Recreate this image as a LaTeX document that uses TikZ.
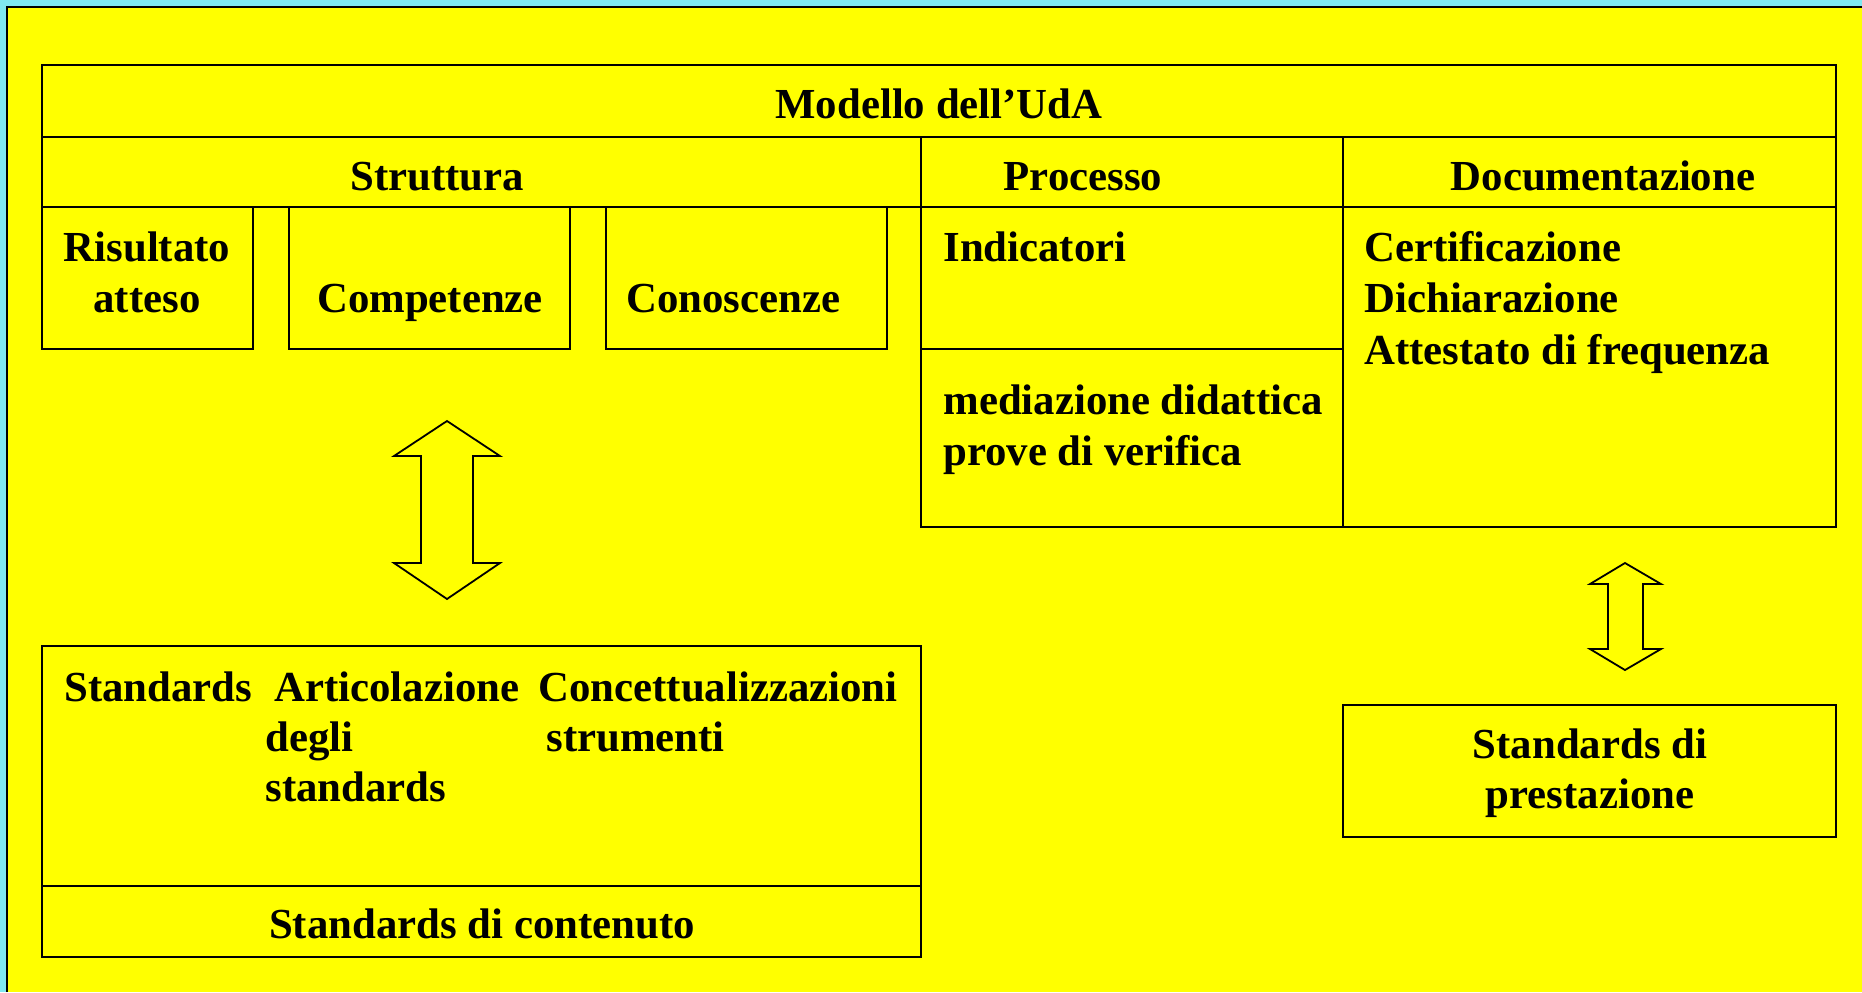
\documentclass[tikz,border=0pt]{standalone}
\usepackage{fontspec}
\setmainfont{Liberation Serif}

\definecolor{slidecyan}{RGB}{128,232,240}
\definecolor{slideyellow}{RGB}{255,255,0}

\begin{document}
\begin{tikzpicture}[x=0.5pt,y=-0.5pt,
  font=\fontsize{21.4}{25}\selectfont\bfseries,
  cell/.style={draw,line width=0.9pt},
  txt/.style={inner sep=0pt,anchor=base},
  txtl/.style={inner sep=0pt,anchor=base west},
  hollow/.style={draw,line width=0.9pt,fill=slideyellow,line join=miter}]

% Page: cyan frame and yellow slide with a dark edge top and left
\useasboundingbox (0,0) rectangle (1862,992);
\fill[slidecyan] (0,0) rectangle (1862,992);
\fill[slideyellow] (7,7) rectangle (1862,992);
\draw[line width=1.2pt] (7,992) -- (7,7) -- (1862,7);

% Column edges and row heights of the upper table
\def \xl{   42 } % left edge
\def \xp{  921 } % start of Processo
\def \xd{ 1343 } % start of Documentazione
\def \xr{ 1836 } % right edge
\def \ya{   65 }
\def \yb{  137 }
\def \yc{  207 }
\def \yd{  349 }
\def \ye{  527 }

% Upper table
\draw[cell] (\xl,\ya) rectangle (\xr,\yb);
\draw[cell] (\xl,\yb) rectangle (\xp,\yc);
\draw[cell] (\xp,\yb) rectangle (\xd,\yc);
\draw[cell] (\xd,\yb) rectangle (\xr,\yc);
\draw[cell] (\xl,\yc) rectangle (253,\yd);
\draw[cell] (289,\yc) rectangle (570,\yd);
\draw[cell] (606,\yc) rectangle (887,\yd);
\draw[cell] (\xp,\yc) rectangle (\xd,\yd);
\draw[cell] (\xp,\yd) rectangle (\xd,\ye);
\draw[cell] (\xd,\yc) rectangle (\xr,\ye);

% Lower boxes
\draw[cell] (\xl,646) rectangle (\xp,957);
\draw[cell] (\xl,886) -- (\xp,886);
\draw[cell] (\xd,705) rectangle (\xr,837);

% Hollow double arrows
\draw[hollow] (447,421) -- (500,456) -- (473,456) -- (473,563) -- (500,563)
  -- (447,599) -- (394,563) -- (421,563) -- (421,456) -- (394,456) -- cycle;
\draw[hollow] (1625,563) -- (1661,584) -- (1643,584) -- (1643,649)
  -- (1661,649) -- (1625,670) -- (1590,649) -- (1608,649) -- (1608,584)
  -- (1590,584) -- cycle;

% Headings
\node[txt] (modello) at (939,118) {Modello dell’UdA};
\node[txt] (struttura) at (437,190) {Struttura};
\node[txt] (processo) at (1083,190) {Processo};
\node[txt] (documentazione) at (1603,190) {Documentazione};

% Struttura
\node[txt] (risultato) at (147,261) {Risultato};
\node[txt] (atteso) at (147,312) {atteso};
\node[txt] (competenze) at (430,312) {Competenze};
\node[txtl] (conoscenze) at (626,312) {Conoscenze};

% Processo
\node[txtl] (indicatori) at (943,261) {Indicatori};
\node[txtl] (mediazione) at (943,414) {mediazione didattica};
\node[txtl] (prove) at (943,465) {prove di verifica};

% Documentazione
\node[txtl] (certificazione) at (1364,261) {Certificazione};
\node[txtl] (dichiarazione) at (1364,312) {Dichiarazione};
\node[txtl] (attestato) at (1364,364) {Attestato di frequenza};

% Standards, lower left
\node[txtl] (standards) at (64,701) {Standards};
\node[txtl] (articolazione) at (274,701) {Articolazione};
\node[txtl] (degli) at (265,751) {degli};
\node[txtl] (standardsb) at (265,801) {standards};
\node[txtl] (concett) at (538,701) {Concettualizzazioni};
\node[txtl] (strumenti) at (546,751) {strumenti};
\node[txt] (contenuto) at (482,938) {Standards di contenuto};

% Standards, lower right
\node[txt] (stdi) at (1590,758) {Standards di};
\node[txt] (prestazione) at (1590,808) {prestazione};
\end{tikzpicture}
\end{document}
